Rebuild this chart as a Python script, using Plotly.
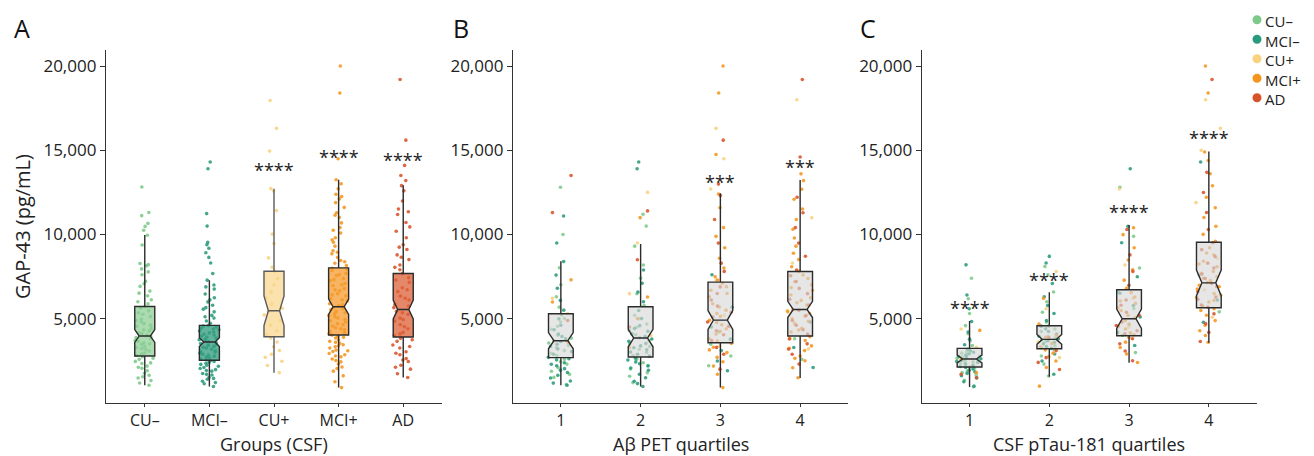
import plotly.graph_objects as go

FONT = "Open Sans"
GROUPS = ["CU–", "MCI–", "CU+", "MCI+", "AD"]
QUARTS = ["1", "2", "3", "4"]
PT_COLORS = ["#7cc98a", "#2a9a7c", "#f8d27e", "#f5951f", "#d9532a"]
BOX_FILLS = ["rgba(140,205,148,0.72)", "rgba(52,158,128,0.78)", "rgba(250,214,140,0.72)",
             "rgba(245,155,45,0.75)", "rgba(220,95,55,0.75)"]
BOX_LINES = ["#2b2b2b", "#2b2b2b", "#5a5a5a", "#2b2b2b", "#2b2b2b"]
X_TITLES = ["Groups (CSF)", "Aβ PET quartiles", "CSF pTau-181 quartiles"]
Y_TITLE = "GAP-43 (pg/mL)"

# ---------------- Panel A: groups (CSF) ----------------
a_cu_neg = [1050, 1190, 1330, 1480, 1640, 1770, 1910, 2060, 2190, 2340, 2470, 2590, 2740,
            2830, 2970, 3080, 3170, 3290, 3360, 3480, 3570, 3720, 3810, 3940,
            4040, 4170, 4280, 4430, 4560, 4710, 4820, 4970, 5130, 5270, 5470, 5620,
            5880, 6130, 6360, 6640, 6920, 7230, 7610, 7960, 8140, 8280, 9380, 9960,
            10250, 10480, 10660, 11120, 11310, 12820,
            2120, 2380, 2660, 2900, 3230, 3520, 3660, 3890, 4110, 4340, 4620, 4890, 5360, 5710,
            6010, 6520, 7080, 7780, 8210, 1560]
a_mci_neg = [975, 1140, 1290, 1410, 1520, 1660, 1750, 1890, 1980, 2110, 2180, 2290, 2360, 2460, 2520,
             2610, 2680, 2780, 2850, 2950, 3020, 3090, 3190, 3260, 3360, 3420, 3530, 3590,
             3690, 3750, 3850, 3920, 3980, 4090, 4160, 4270, 4340, 4440, 4510, 4600,
             4730, 4870, 5040, 5200, 5410, 5570, 5800, 6000, 6250, 6470, 6760, 7000, 7290,
             7690, 8310, 8640, 8920, 9180, 9390, 9530, 10500, 11240, 13900, 14300,
             1210, 1460, 1700, 1930, 2050, 2240, 2410, 2570, 2730, 2900, 3060, 3310, 3480, 3640,
             3800, 4030, 4210, 4390, 4560, 5120, 5660, 6120, 6890]
a_cu_pos = [1800, 2230, 2480, 2710, 2890, 3120, 3340, 3620, 3860,
            4060, 4290, 4620, 4880, 5230, 5440,
            5620, 5880, 6230, 6580, 7020, 7380, 7810,
            8060, 8610, 9460, 10020, 11420, 12580, 12720, 14950, 16300, 17950]
a_mci_pos = [915, 1260, 1610, 1890, 2140, 2310, 2440, 2610, 2740, 2860, 2940, 3060, 3140, 3260, 3340,
             3460, 3540, 3660, 3740, 3860, 3940, 4030,
             4110, 4240, 4340, 4470, 4570, 4710, 4810, 4950, 5050, 5190, 5290, 5430, 5530, 5650,
             5770, 5890, 6060, 6190, 6360, 6490, 6660, 6790, 6960, 7090, 7260, 7390, 7560, 7690, 7860, 8000,
             8160, 8290, 8460, 8640, 8860, 9040, 9310, 9540, 9810, 10090, 10410, 10690, 11010, 11290,
             11610, 11890, 12110, 12390, 12710, 13010, 13250, 14500, 18400, 20000,
             2050, 2520, 2790, 3100, 3400, 3600, 3900, 4180, 4400, 4640, 4880, 5120, 5360, 5590,
             5830, 6120, 6420, 6720, 7020, 7320, 7620, 7930, 8380, 8950, 9680, 10250, 11150, 12250]
a_ad = [1510, 1740, 2010, 2240, 2460, 2640, 2860, 3040, 3260, 3440, 3660, 3840,
        4010, 4190, 4410, 4640, 4860, 5040, 5260, 5440,
        5660, 5840, 6110, 6340, 6610, 6840, 7160, 7440, 7680,
        7910, 8190, 8510, 8790, 9110, 9390, 9810, 10190, 10710, 11190, 11510, 11990,
        12590, 12900, 13200, 13500, 14100, 15600, 19200,
        2120, 2550, 2950, 3350, 3750, 4100, 4530, 4950, 5350, 5750, 6220, 6720, 7300, 8050,
        8650, 9250, 10450, 11350]

a_q1 = [2789, 2533, 3934, 4033, 3914]
a_median = [3974, 3618, 5474, 5711, 5553]
a_q3 = [5731, 4605, 7823, 8020, 7685]
a_lower = [1052, 973, 1802, 914, 1506]
a_upper = [9969, 7290, 12719, 13251, 12916]
a_notch = [380, 260, 880, 460, 560]
a_stars = ["", "", "****", "****", "****"]
a_star_y = [None, None, 13820, 14610, 14450]

# ---------------- Panel B: Abeta PET quartiles (points per colour, per quartile) ----------------
pet_cu_neg = [[1100, 1520, 1880, 2310, 2590, 2820, 3110, 3420, 3690, 4020, 4380, 4810, 5220, 5690, 6310, 7020,
               8030, 10000, 12800, 1700, 2100, 2450, 2950, 3280, 3560, 3850, 4550, 5010],
              [1210, 1590, 2020, 2390, 2810, 3190, 3520, 3880, 4310, 4690, 5210, 5790, 6480, 7410, 8190, 9310,
               10500, 11200, 1800, 2200, 2600, 3000, 3350, 3700, 4050, 4500, 5000],
              [2210, 2790, 3490, 4220],
              [2590, 3810]]
pet_mci_neg = [[1050, 1310, 1640, 1810, 2040, 2210, 2390, 2560, 2710, 2890, 3210, 3490, 3810, 4090, 4610, 4990,
                5510, 6090, 6810, 7590, 8400, 9500, 11100, 1180, 1480, 1950, 2300, 2630, 3050, 3350, 3650, 3950, 4350],
               [975, 1290, 1710, 1940, 2210, 2440, 2660, 2890, 3160, 3390, 3660, 3940, 4260, 4590, 5010, 5490,
                6010, 6590, 7110, 7890, 13900, 14300, 1150, 1500, 2080, 2330, 2550, 2780, 3030, 3280, 3530,
                3800, 4100, 4420],
               [1910, 2490, 3110, 3790, 4510, 5690, 7610],
               [2110, 3290, 4810]]
pet_cu_pos = [[5290, 6210],
              [4010, 6490, 9500, 12500],
              [3390, 5210, 7290, 12700, 14500, 16300],
              [3210, 5490, 8310, 10990, 18000]]
pet_mci_pos = [[3610, 5990, 7310],
               [3290, 5010, 6290, 11000],
               [915, 1710, 2190, 2710, 2990, 3310, 3540, 3810, 4090, 4410, 4640, 4910, 5140, 5510, 5890, 6310,
                6690, 7110, 7490, 8010, 8590, 9210, 9890, 10410, 11590, 12400, 14750, 18400, 20000,
                2450, 3150, 3680, 4250, 4780, 5320, 5700, 6500, 6900, 7300],
               [1500, 2090, 2510, 2790, 3110, 3390, 3710, 3940, 4210, 4440, 4710, 4990, 5310, 5540, 5810, 6090,
                6410, 6690, 7010, 7390, 7810, 8090, 8510, 8890, 9310, 9790, 10310, 10890, 11510, 12090, 12690,
                13200, 13600, 2650, 3250, 3850, 4330, 4850, 5150, 5420, 5950, 6250, 6850, 7200, 7600]]
pet_ad = [[4890, 11300, 13500],
          [4510, 8500, 11400],
          [2010, 2890, 3710, 4290, 4810, 5390, 6110, 6890, 7810, 9490, 10890, 12310, 12990, 15600,
           3300, 4050, 4550, 5100, 5750, 6500, 8300],
          [2310, 2890, 3510, 4090, 4610, 5190, 5810, 6490, 7210, 7890, 8710, 9490, 10410, 11290, 12210, 14600,
           19200, 3200, 3800, 4350, 4900, 5500, 6150, 6800, 7550]]

pet_q1 = [2691, 2730, 3579, 3974]
pet_median = [3697, 3855, 4921, 5553]
pet_q3 = [5296, 5711, 7172, 7803]
pet_lower = [1052, 973, 914, 1486]
pet_upper = [8415, 9442, 12442, 13232]
pet_notch = [480, 520, 560, 480]
pet_stars = ["", "", "***", "***"]
pet_star_y = [None, None, 13130, 13980]

# ---------------- Panel C: CSF pTau-181 quartiles ----------------
ptau_cu_neg = [[960, 1350, 1660, 1890, 2060, 2190, 2360, 2490, 2660, 2790, 2960, 3140, 3410, 3690, 4110, 4590,
                5310, 6190, 7400, 1800, 2120, 2280, 2430, 2580, 2720, 2880, 3050],
               [1600, 2310, 2790, 3160, 3390, 3660, 3840, 4110, 4390, 4810, 5390, 6010, 6590, 7610, 8100,
                3280, 3520, 3760, 3950, 4250, 4560],
               [2990, 4010, 4690, 5610, 6590, 8010, 9890, 12800],
               [5410, 7590]]
ptau_mci_neg = [[1000, 1260, 1490, 1760, 1940, 2110, 2240, 2410, 2540, 2710, 2840, 3010, 3190, 3460, 3790, 4210,
                 4840, 5590, 6410, 8200, 1620, 1850, 2020, 2170, 2330, 2470, 2620, 2770, 2920, 3100],
                [1710, 2490, 2910, 3240, 3510, 3690, 3960, 4240, 4560, 4890, 5310, 5790, 6310, 7090, 8310, 8700,
                 3350, 3600, 3800, 4050, 4400],
                [3410, 4190, 5110, 5790, 6510, 7490, 9510, 10490, 13900],
                [4790, 6110, 14300]]
ptau_cu_pos = [[3310, 4390],
               [2690, 3610, 5590, 7800],
               [4490, 6210, 8190, 12700],
               [5090, 6710, 8590, 11890, 15000, 16300, 18000]]
ptau_mci_pos = [[1810, 2590, 4310],
                [1000, 2110, 2490, 2960, 3340, 4010, 4690, 6210, 2750, 3150, 3550, 3900],
                [2400, 2910, 3290, 3610, 3890, 4160, 4390, 4660, 4890, 5210, 5490, 5910, 6290, 6810, 7290, 7910,
                 8490, 9210, 9990, 10400, 4050, 4550, 5050, 5650, 6050, 6550],
                [3600, 4010, 4290, 4610, 4890, 5210, 5490, 5760, 5990, 6260, 6490, 6760, 6990, 7260, 7490, 7810,
                 8090, 8410, 8790, 9210, 9590, 10010, 10490, 11010, 11590, 12210, 12890, 13610, 14390, 14900,
                 18400, 20000, 5600, 6100, 6400, 6900, 7150, 7400, 7700, 8250, 8900]]
ptau_ad = [[1500, 1710],
           [1990, 2410, 2690, 3110, 3890],
           [2510, 3090, 3510, 3810, 4290, 4810, 5390, 6110, 6990, 7810, 8790, 10300, 4100, 4600, 5200, 5800],
           [3650, 4190, 4710, 5290, 5810, 6290, 6910, 7390, 8010, 8690, 9510, 10290, 11310, 12490, 13690, 19200,
            5700, 6150, 6600, 7100, 7650, 8300, 9100]]

ptau_q1 = [2138, 3224, 3993, 5652]
ptau_median = [2612, 3776, 5000, 7132]
ptau_q3 = [3243, 4586, 6718, 9540]
ptau_lower = [953, 1565, 2394, 3579]
ptau_upper = [4862, 6580, 10567, 14929]
ptau_notch = [230, 290, 580, 760]
ptau_stars = ["****", "****", "****", "****"]
ptau_star_y = [5630, 7310, 11360, 15740]

Y_TICKS = [5000, 10000, 15000, 20000]
Y_RANGE = [0, 20950]

# The page body adds an 8px margin; lay the figure out in page coordinates minus that offset.
OFF = 8
FIG_W, FIG_H = 1314 - OFF, 456 - OFF
PLOT_TOP, PLOT_BOTTOM = 50 - OFF, 403 - OFF
PLOT_H = PLOT_BOTTOM - PLOT_TOP


def px_x(x):
    return (x - OFF) / FIG_W


def px_y(y):
    return (PLOT_BOTTOM - (y - OFF)) / PLOT_H


fig = go.Figure()

PT_W = 0.33
BOX_W = 0.31


def points_trace(xs, ys, color, xa, ya):
    return go.Box(x=xs, y=ys, boxpoints="all", jitter=1, pointpos=0, width=PT_W,
                  fillcolor="rgba(0,0,0,0)", line=dict(width=0, color="rgba(0,0,0,0)"),
                  marker=dict(color=color, size=3.6, opacity=0.88),
                  hoverinfo="skip", showlegend=False, xaxis=xa, yaxis=ya)


# Panel A points
for g, vals, col in zip(GROUPS, [a_cu_neg, a_mci_neg, a_cu_pos, a_mci_pos, a_ad], PT_COLORS):
    fig.add_trace(points_trace([g] * len(vals), vals, col, "x", "y"))

# Panel A boxes
for i, g in enumerate(GROUPS):
    fig.add_trace(go.Box(x=[g], q1=[a_q1[i]], median=[a_median[i]], q3=[a_q3[i]],
                         lowerfence=[a_lower[i]], upperfence=[a_upper[i]], notchspan=[a_notch[i]],
                         notched=True, notchwidth=0.22, width=BOX_W, boxpoints=False, whiskerwidth=0,
                         fillcolor=BOX_FILLS[i], line=dict(color=BOX_LINES[i], width=1.4),
                         hoverinfo="skip", showlegend=False, xaxis="x", yaxis="y"))

# Panels B and C
panels = [
    ("x2", "y2", [pet_cu_neg, pet_mci_neg, pet_cu_pos, pet_mci_pos, pet_ad],
     pet_q1, pet_median, pet_q3, pet_lower, pet_upper, pet_notch),
    ("x3", "y3", [ptau_cu_neg, ptau_mci_neg, ptau_cu_pos, ptau_mci_pos, ptau_ad],
     ptau_q1, ptau_median, ptau_q3, ptau_lower, ptau_upper, ptau_notch),
]
for xa, ya, series, q1, med, q3, lo, hi, notch in panels:
    for col, per_q in zip(PT_COLORS, series):
        xs, ys = [], []
        for q, vals in zip(QUARTS, per_q):
            xs += [q] * len(vals)
            ys += vals
        fig.add_trace(points_trace(xs, ys, col, xa, ya))
    fig.add_trace(go.Box(x=QUARTS, q1=q1, median=med, q3=q3, lowerfence=lo, upperfence=hi,
                         notchspan=notch, notched=True, notchwidth=0.22, width=BOX_W, boxpoints=False,
                         whiskerwidth=0, fillcolor="rgba(214,214,214,0.62)",
                         line=dict(color="#2b2b2b", width=1.4),
                         hoverinfo="skip", showlegend=False, xaxis=xa, yaxis=ya))

axis_common = dict(showline=True, linecolor="#333333", linewidth=1.3, ticks="outside",
                   tickcolor="#333333", tickwidth=1.2, showgrid=False, zeroline=False)
y_axis_style = dict(axis_common, ticklen=5, tickfont=dict(family=FONT, size=17, color="#222222"))
x_axis_style = dict(axis_common, ticklen=3, tickfont=dict(family=FONT, size=16, color="#222222"))
title_font = dict(family=FONT, size=20, color="#222222")
x_title_font = dict(family=FONT, size=18, color="#222222")

X_DOMAINS = [[px_x(106), px_x(442)], [px_x(513), px_x(848)], [px_x(921.7), px_x(1256.7)]]

fig.update_layout(
    width=FIG_W, height=FIG_H,
    margin=dict(l=0, r=0, t=PLOT_TOP, b=FIG_H - PLOT_BOTTOM),
    paper_bgcolor="white", plot_bgcolor="white",
    boxmode="overlay",
    font=dict(family=FONT, color="#222222"),
    showlegend=False,
    xaxis=dict(domain=X_DOMAINS[0], type="category", categoryarray=GROUPS, range=[-0.6, 4.6],
               anchor="y", **x_axis_style),
    xaxis2=dict(domain=X_DOMAINS[1], type="category", categoryarray=QUARTS, range=[-0.6, 3.6],
                anchor="y2", **x_axis_style),
    xaxis3=dict(domain=X_DOMAINS[2], type="category", categoryarray=QUARTS, range=[-0.6, 3.6],
                anchor="y3", **x_axis_style),
    yaxis=dict(range=Y_RANGE, tickvals=Y_TICKS, tickformat=",d", anchor="x",
               title=dict(text=Y_TITLE, font=title_font, standoff=7), **y_axis_style),
    yaxis2=dict(range=Y_RANGE, tickvals=Y_TICKS, tickformat=",d", anchor="x2", **y_axis_style),
    yaxis3=dict(range=Y_RANGE, tickvals=Y_TICKS, tickformat=",d", anchor="x3", **y_axis_style),
)

annotations = []
for cats, stars, ys, xr, yr in [(GROUPS, a_stars, a_star_y, "x", "y"),
                                 (QUARTS, pet_stars, pet_star_y, "x2", "y2"),
                                 (QUARTS, ptau_stars, ptau_star_y, "x3", "y3")]:
    for idx, (s, y) in enumerate(zip(stars, ys)):
        if s:
            annotations.append(dict(x=idx, y=y, xref=xr, yref=yr, text=s, showarrow=False,
                                    font=dict(family=FONT, size=18, color="#222222"),
                                    xanchor="center", yanchor="middle"))

# x-axis titles, sitting just under the tick labels
for title, dom in zip(X_TITLES, X_DOMAINS):
    annotations.append(dict(x=(dom[0] + dom[1]) / 2, y=px_y(443.8), xref="paper", yref="paper", text=title,
                            showarrow=False, xanchor="center", yanchor="middle",
                            font=x_title_font))

for lab, px in [("A", 22), ("B", 461), ("C", 868)]:
    annotations.append(dict(x=px_x(px), y=px_y(28), xref="paper", yref="paper", text=lab,
                            showarrow=False, xanchor="center", yanchor="middle",
                            font=dict(family=FONT, size=25, color="#111111")))

# Key: group names as one multi-line text, coloured dots (shapes) beside each line
KEY_FONT = 15
KEY_TOP = 9
KEY_LINE = 1.3 * KEY_FONT
annotations.append(dict(x=px_x(1263), y=px_y(KEY_TOP), xref="paper", yref="paper",
                        text="<br>".join(GROUPS), showarrow=False, align="left",
                        xanchor="left", yanchor="top",
                        font=dict(family=FONT, size=KEY_FONT, color="#222222")))
shapes = []
for i, col in enumerate(PT_COLORS):
    cy = KEY_TOP + 1 + KEY_LINE * (i + 0.5)
    r = 4.5
    shapes.append(dict(type="circle", xref="paper", yref="paper",
                       x0=px_x(1257 - r), x1=px_x(1257 + r), y0=px_y(cy + r), y1=px_y(cy - r),
                       fillcolor=col, line=dict(width=0)))

fig.update_layout(annotations=annotations, shapes=shapes)
fig.write_html("out.html")
